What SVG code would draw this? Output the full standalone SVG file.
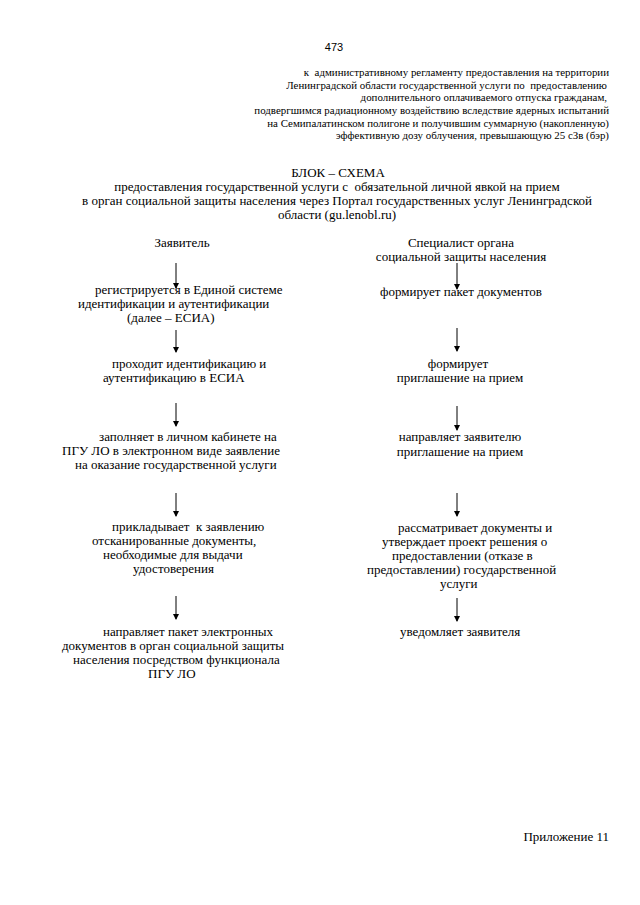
<svg xmlns="http://www.w3.org/2000/svg" width="640" height="905" viewBox="0 0 640 905">
<defs>
<marker id="ah" markerWidth="6" markerHeight="7" refX="5" refY="3" orient="auto" markerUnits="userSpaceOnUse" viewBox="0 0 6 6">
<path d="M0,0 L6,3 L0,6 Z" fill="#000"/>
</marker>
<style>
text{font-family:"Liberation Serif","Times New Roman",serif;fill:#000;white-space:pre;}
.h{font-size:10.9px;text-anchor:end;}
.t{font-size:13px;text-anchor:middle;}
.b{font-size:13px;}
.m{text-anchor:middle;}
.c line{stroke:#000;stroke-width:1;marker-end:url(#ah);}
</style>
</defs>
<rect width="640" height="905" fill="#fff"/>
<text x="334" y="51" style="font-family:'Liberation Sans',Arial,sans-serif;font-size:11px;text-anchor:middle">473</text>
<g id="header">
<text class="h" x="609" y="76">к  административному регламенту предоставления на территории</text>
<text class="h" x="607" y="89">Ленинградской области государственной услуги по  предоставлению</text>
<text class="h" x="607" y="101">дополнительного оплачиваемого отпуска гражданам,</text>
<text class="h" x="609" y="114">подвергшимся радиационному воздействию вследствие ядерных испытаний</text>
<text class="h" x="609" y="127">на Семипалатинском полигоне и получившим суммарную (накопленную)</text>
<text class="h" x="609" y="139">эффективную дозу облучения, превышающую 25 сЗв (бэр)</text>
</g>
<g id="title">
<text class="t" x="338" y="177">БЛОК – СХЕМА</text>
<text class="t" x="337" y="191">предоставления государственной услуги с  обязательной личной явкой на прием</text>
<text class="t" x="337" y="205">в орган социальной защиты населения через Портал государственных услуг Ленинградской</text>
<text class="t" x="337" y="219">области (gu.lenobl.ru)</text>
</g>
<g id="applicant"><text class="b m" x="182" y="247">Заявитель</text></g>
<g id="specialist">
<text class="b m" x="461" y="247">Специалист органа</text>
<text class="b m" x="461" y="261">социальной защиты населения</text>
</g>
<g id="l1">
<text class="b" x="95" y="294">регистрируется в Единой системе</text>
<text class="b" x="78" y="308">идентификации и аутентификации</text>
<text class="b" x="127" y="322">(далее – ЕСИА)</text>
</g>
<g id="l2">
<text class="b" x="112" y="368">проходит идентификацию и</text>
<text class="b" x="103" y="382">аутентификацию в ЕСИА</text>
</g>
<g id="l3">
<text class="b" x="99" y="441">заполняет в личном кабинете на</text>
<text class="b" x="62" y="455">ПГУ ЛО в электронном виде заявление</text>
<text class="b" x="75" y="469">на оказание государственной услуги</text>
</g>
<g id="l4">
<text class="b" x="112" y="531">прикладывает  к заявлению</text>
<text class="b" x="92" y="545">отсканированные документы,</text>
<text class="b" x="103" y="559">необходимые для выдачи</text>
<text class="b" x="133" y="573">удостоверения</text>
</g>
<g id="l5">
<text class="b" x="103" y="636">направляет пакет электронных</text>
<text class="b" x="62" y="650">документов в орган социальной защиты</text>
<text class="b" x="73" y="664">населения посредством функционала</text>
<text class="b" x="148" y="678">ПГУ ЛО</text>
</g>
<g id="r1"><text class="b" x="380" y="296">формирует пакет документов</text></g>
<g id="r2">
<text class="b m" x="458" y="368">формирует</text>
<text class="b m" x="460" y="382">приглашение на прием</text>
</g>
<g id="r3">
<text class="b m" x="460" y="441">направляет заявителю</text>
<text class="b m" x="460" y="456">приглашение на прием</text>
</g>
<g id="r4">
<text class="b" x="398" y="532">рассматривает документы и</text>
<text class="b" x="382" y="546">утверждает проект решения о</text>
<text class="b" x="392" y="560">предоставлении (отказе в</text>
<text class="b" x="367" y="574">предоставлении) государственной</text>
<text class="b" x="440" y="588">услуги</text>
</g>
<g id="r5"><text class="b" x="400" y="636">уведомляет заявителя</text></g>
<g id="connectors" class="c">
<line x1="176" y1="263" x2="176" y2="288"/>
<line x1="176" y1="330" x2="176" y2="352"/>
<line x1="176" y1="403" x2="176" y2="426"/>
<line x1="176" y1="493" x2="176" y2="516"/>
<line x1="176" y1="596" x2="176" y2="619"/>
<line x1="457" y1="263" x2="457" y2="289"/>
<line x1="457" y1="328" x2="457" y2="351"/>
<line x1="457" y1="406" x2="457" y2="430"/>
<line x1="457" y1="493" x2="457" y2="516"/>
<line x1="457" y1="598" x2="457" y2="621"/>
</g>
<text x="609" y="841" style="font-size:13px;text-anchor:end">Приложение 11</text>
</svg>
